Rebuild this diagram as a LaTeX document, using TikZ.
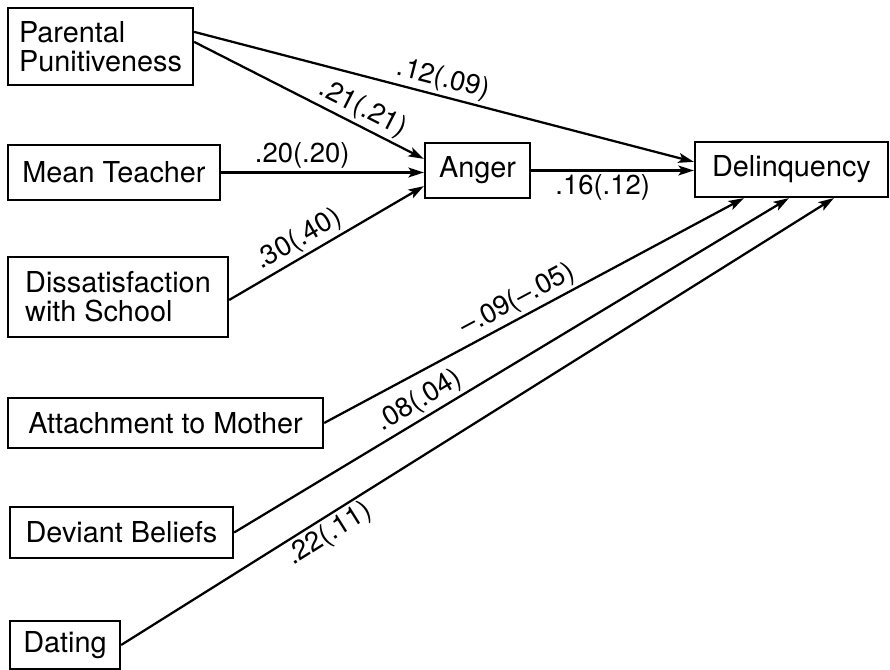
\documentclass[tikz,border=0pt]{standalone}
\usepackage{fontspec}
\setmainfont{TeX Gyre Heros}
\usepackage{tikz}
\usetikzlibrary{arrows.meta,calc}

\begin{document}
\begin{tikzpicture}[
  x=0.025cm, y=-0.025cm,
  var/.style={rectangle, draw=black, line width=1.6pt, align=left,
              font=\fontsize{20.5}{20.6}\selectfont, inner sep=0pt},
  arr/.style={-{Stealth[length=11pt,width=7pt,inset=2.5pt]}, line width=1.6pt},
  coef/.style={font=\fontsize{19.5}{20}\selectfont, sloped, inner sep=2pt}
]
\useasboundingbox (0,0) rectangle (890,670);

%% exogenous variables
\node[var, minimum width=185*0.025cm, minimum height=77*0.025cm] (pp) at (100.5,46.5) {Parental\\Punitiveness};
\node[var, minimum width=212*0.025cm, minimum height=55*0.025cm] (mt) at (114,172.5) {Mean Teacher};
\node[var, minimum width=220*0.025cm, minimum height=80*0.025cm] (ds) at (118,297) {Dissatisfaction\\with School};
\node[var, minimum width=315*0.025cm, minimum height=50*0.025cm] (am) at (165.5,423) {Attachment to Mother};
\node[var, minimum width=223*0.025cm, minimum height=51*0.025cm] (db) at (121.5,532.5) {Deviant Beliefs};
\node[var, minimum width=110*0.025cm, minimum height=48*0.025cm] (dt) at (65,645) {Dating};

%% mediator and outcome
\node[var, minimum width=105*0.025cm, minimum height=55*0.025cm] (ang) at (477.5,170.5) {Anger};
\node[var, minimum width=193*0.025cm, minimum height=55*0.025cm] (del) at (791.5,169.5) {Delinquency};

%% paths to anger
\draw[arr] ($(pp.north east)+(0,35)$) -- ($(ang.north west)+(0,17)$)
  node[coef, pos=0.7, above] {.21(.21)};
\draw[arr] (mt.east) -- (mt.east -| ang.west)
  node[coef, pos=0.4, above] {.20(.20)};
\draw[arr] ($(ds.east)+(0,3)$) -- ($(ang.south west)+(0,-13)$)
  node[coef, pos=0.4, above] {.30(.40)};

%% paths to delinquency
\draw[arr] ($(pp.north east)+(0,25)$) -- ($(del.north west)+(0,21)$)
  node[coef, pos=0.49, above] {.12(.09)};
\draw[arr] (ang.east) -- (ang.east -| del.west)
  node[coef, pos=0.44, below] {.16(.12)};
\draw[arr] (am.east) -- ($(del.south west)+(50,0)$)
  node[coef, pos=0.48, above] {--.09(--.05)};
\draw[arr] (db.east) -- ($(del.south west)+(95,0)$)
  node[coef, pos=0.35, above] {.08(.04)};
\draw[arr] (dt.east) -- ($(del.south west)+(140,0)$)
  node[coef, pos=0.28, below] {.22(.11)};

\end{tikzpicture}
\end{document}
